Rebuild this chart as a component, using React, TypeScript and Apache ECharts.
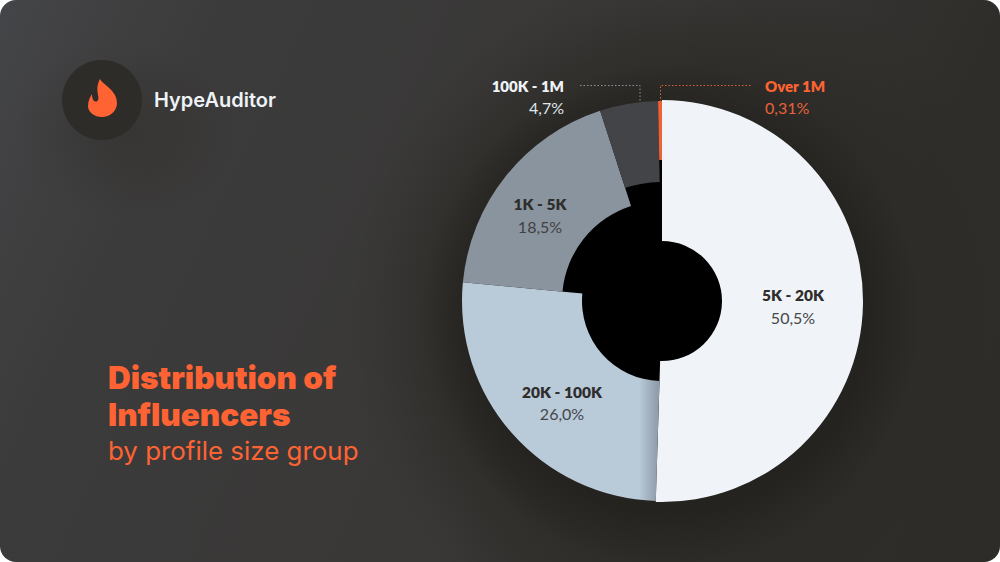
import React, { useEffect, useRef } from "react";
import * as echarts from "echarts";

const categories = ["5K - 20K", "20K - 100K", "1K - 5K", "100K - 1M", "Over 1M"];
const values = [50.5, 26.0, 18.5, 4.7, 0.31];
const valueLabels = ["50,5%", "26,0%", "18,5%", "4,7%", "0,31%"];

const W = 1000;
const H = 562;
const CX = 662;
const CY = 301;
const FONT = "Lato, 'Open Sans', sans-serif";
const HEAD = "Inter, Lato, sans-serif";
const ORANGE = "#ff6333";
const total = values.reduce((a, b) => a + b, 0);

const innerRadii = [60, 80, 100, 119, 141];
const outerRadii = [201, 200, 200, 200, 200];
const textColors = ["#2f2e2c", "#2f2e2c", "#2f2e2c", "#eef3f7", ORANGE];
const subColors = ["#45474a", "#45474a", "#3f4144", "#dfe6ec", "#e8623a"];
const labelPos: [number, number][] = [[793, 306], [562, 402.5], [540, 215], [0, 0], [0, 0]];
const fills: any[] = [
  "#f0f4f8",
  {
    type: "linear", global: true, x: 639, y: 0, x2: 658, y2: 0,
    colorStops: [{ offset: 0, color: "#b9cad9" }, { offset: 1, color: "#8f9ca9" }],
  },
  "#8a949f",
  "#424447",
  "#ee6235",
];

echarts.graphic.registerShape(
  "flame",
  echarts.graphic.extendPath(
    "M100 79 C103 85 117 90 117 103 C117 111 110 117 102 117 C94 117 88 112 88 106 C88 101 90 97 92 94 C92 98 93 101 95.5 101.5 C98 102 99 99 98 95 C97 90 97 84 100 79 Z",
    {}
  )
);

function sliceSeries(i: number) {
  const before = values.slice(0, i).reduce((a, b) => a + b, 0);
  const v = values[i];
  const inside = i < 3;
  return {
    type: "pie",
    silent: true,
    center: [CX, CY],
    radius: [innerRadii[i], outerRadii[i]],
    startAngle: 90 - (before / total) * 360,
    clockwise: true,
    sort: null,
    animation: false,
    z: 3,
    labelLine: { show: false },
    labelLayout: inside ? { x: labelPos[i][0], y: labelPos[i][1], align: "center", verticalAlign: "middle" } : undefined,
    data: [
      {
        name: categories[i],
        value: v,
        itemStyle: { color: fills[i] },
        label: inside
          ? {
              show: true,
              position: "inside",
              formatter: () => `{a|${categories[i]}}\n{b|${valueLabels[i]}}`,
              rich: {
                a: { fontFamily: FONT, fontSize: 15.5, fontWeight: 800, color: textColors[i], lineHeight: 22, align: "center" },
                b: { fontFamily: FONT, fontSize: 16, fontWeight: 400, color: subColors[i], lineHeight: 22, align: "center" },
              },
            }
          : { show: false },
      },
      {
        name: "rest",
        value: total - v,
        itemStyle: { color: "rgba(0,0,0,0)" },
        label: { show: false },
        emphasis: { disabled: true },
      },
    ],
  };
}

export default function App() {
  const ref = useRef<HTMLDivElement>(null);
  useEffect(() => {
    document.body.style.margin = "0";
    document.body.style.background = "#fff";
    const chart = echarts.init(ref.current!, null, { renderer: "svg" });
    const dot = { lineDash: [1.5, 2], lineWidth: 1 };
    chart.setOption({
      animation: false,
      series: [
        {
          type: "pie",
          silent: true,
          center: [CX, CY],
          radius: [0, 145],
          z: 2,
          label: { show: false },
          labelLine: { show: false },
          data: [{ value: 1, itemStyle: { color: "#000" } }],
        },
        ...values.map((_, i) => sliceSeries(i)),
      ],
      graphic: [
        { type: "circle", shape: { cx: 102, cy: 100, r: 40 }, style: { fill: "#2e2c29" }, z: 10 },
        { type: "flame", x: 0, y: 0, style: { fill: ORANGE }, z: 11 },
        { type: "text", x: 154, y: 100, z: 11, style: { text: "HypeAuditor", font: `600 20px ${HEAD}`, fill: "#eef3f7", textVerticalAlign: "middle" } },
        { type: "text", x: 108, y: 377, z: 11, style: { text: "Distribution of", font: `900 31.5px ${HEAD}`, fill: ORANGE, textVerticalAlign: "middle" } },
        { type: "text", x: 108, y: 414, z: 11, style: { text: "Influencers", font: `900 31.5px ${HEAD}`, fill: ORANGE, textVerticalAlign: "middle" } },
        { type: "text", x: 108, y: 450, z: 11, style: { text: "by profile size group", font: `400 25.9px ${HEAD}`, fill: ORANGE, textVerticalAlign: "middle" } },
        { type: "text", x: 564, y: 85.5, z: 11, style: { text: categories[3], font: `800 15px ${FONT}`, fill: textColors[3], textAlign: "right", textVerticalAlign: "middle" } },
        { type: "text", x: 564, y: 107, z: 11, style: { text: valueLabels[3], font: `400 16px ${FONT}`, fill: subColors[3], textAlign: "right", textVerticalAlign: "middle" } },
        { type: "text", x: 765, y: 85.5, z: 11, style: { text: categories[4], font: `800 15px ${FONT}`, fill: textColors[4], textVerticalAlign: "middle" } },
        { type: "text", x: 765, y: 107, z: 11, style: { text: valueLabels[4], font: `400 16px ${FONT}`, fill: subColors[4], textVerticalAlign: "middle" } },
        { type: "polyline", z: 11, shape: { points: [[580, 85.5], [640, 85.5], [640, 102]] }, style: { stroke: "#8b95a0", fill: "none", ...dot } },
        { type: "polyline", z: 11, shape: { points: [[660.5, 102], [660.5, 85.5], [752, 85.5]] }, style: { stroke: "#d9633c", fill: "none", ...dot } },
      ],
    });
    return () => chart.dispose();
  }, []);
  return (
    <div
      style={{
        position: "absolute",
        left: 0,
        top: 0,
        width: W,
        height: H,
        borderRadius: 16,
        overflow: "hidden",
        background: [
          "radial-gradient(circle 250px at 671px 316px, rgba(28,26,22,0.5) 0%, rgba(28,26,22,0.5) 78%, rgba(28,26,22,0) 100%)",
          "radial-gradient(circle 350px at 700px 320px, #2e2c28 0%, #2e2c28 68%, rgba(46,44,40,0) 100%)",
          "radial-gradient(ellipse 110px 90px at 125px 130px, rgba(46,44,40,0.45) 0%, rgba(46,44,40,0) 100%)",
          "linear-gradient(115deg, #444548 0%, #3c3b3b 18%, #393837 55%, #2f2d2a 80%, #2e2c28 100%)",
        ].join(", "),
      }}
    >
      <div ref={ref} style={{ width: W, height: H }} />
    </div>
  );
}
